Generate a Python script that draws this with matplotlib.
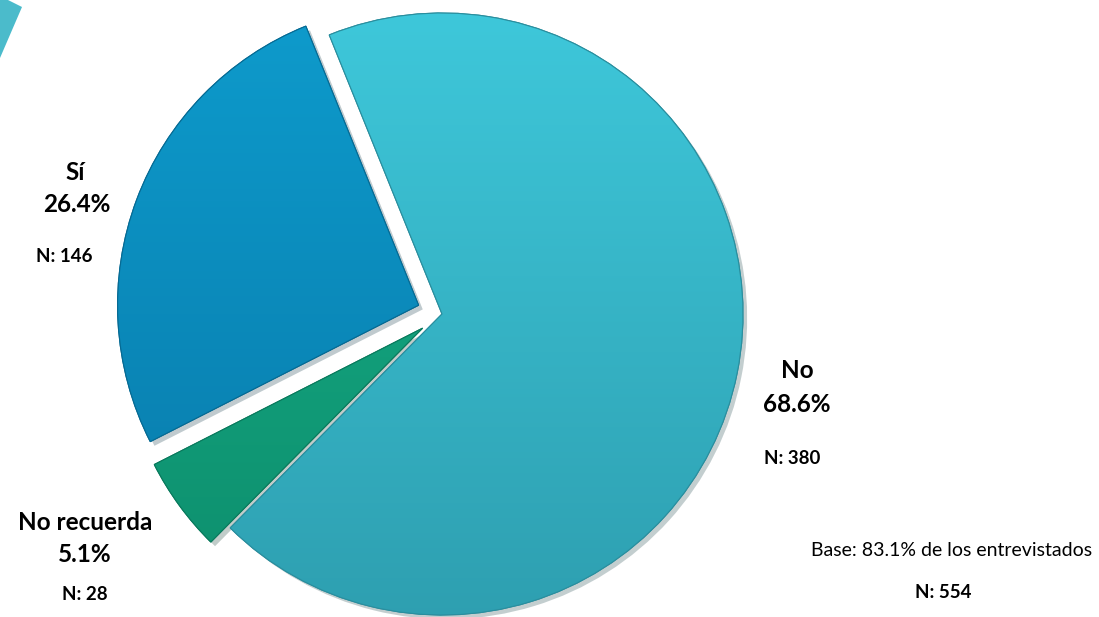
import numpy as np
import matplotlib
matplotlib.use("Agg")
import matplotlib.pyplot as plt
import matplotlib.patheffects as pe
from matplotlib.colors import LinearSegmentedColormap
from matplotlib.patches import Polygon, PathPatch

plt.rcParams['font.family'] = ['Lato', 'DejaVu Sans']

# --- data ---
categories = ["Sí", "No recuerda", "No"]
percents = [26.4, 5.1, 68.6]
counts = [146, 28, 380]
base_text = "Base: 83.1% de los entrevistados"
base_n = 554

# gradient top/bottom colours per slice
top_colors = ["#0E9DCE", "#19B38B", "#3FCADD"]
bottom_colors = ["#0877A7", "#0C8C6B", "#2D9DAE"]
edge_colors = ["#066A93", "#0A7A5D", "#2A8E9E"]

W, H = 1099, 617
fig = plt.figure(figsize=(W / 100, H / 100), dpi=100)
ax = fig.add_axes([0, 0, 1, 1])

# pie placed in pixel units (explode offsets are in the same units)
cx, cy, r = 442, H - 314, 301
explode = [25, 24, 0]
wedges, _ = ax.pie(percents, explode=explode, startangle=112, counterclock=True,
                   center=(cx, cy), radius=r, colors=top_colors,
                   wedgeprops=dict(linewidth=0.8))

for i, w in enumerate(wedges):
    w.set_edgecolor(edge_colors[i])
    w.set_path_effects([pe.SimplePatchShadow(offset=(3, -3), alpha=0.25), pe.Normal()])
    cmap = LinearSegmentedColormap.from_list(f"g{i}", [top_colors[i], bottom_colors[i]])
    grad = np.linspace(0, 1, 256).reshape(-1, 1)
    im = ax.imshow(grad, cmap=cmap, origin='upper', aspect='auto',
                   extent=[cx - r - 40, cx + r + 40, cy - r - 40, cy + r + 40], zorder=2)
    im.set_clip_path(w)
    # outline on top of the gradient
    ax.add_patch(PathPatch(w.get_path(), transform=w.get_transform(), fill=False,
                           edgecolor=edge_colors[i], linewidth=0.8, zorder=3))

ax.set_xlim(0, W)
ax.set_ylim(0, H)
ax.set_aspect('auto')
ax.axis('off')

# --- labels (pixel positions, y measured from top) ---
label_pos = {
    "Sí": [(75, 172), (77, 204), (64, 257)],
    "No recuerda": [(85, 522), (85, 555), (85, 595)],
    "No": [(797, 371), (797, 404), (792, 458)],
}
for cat, pct, n in zip(categories, percents, counts):
    (x1, y1), (x2, y2), (x3, y3) = label_pos[cat]
    ax.text(x1, H - y1, cat, ha='center', va='center', fontsize=17.5, fontweight='bold')
    ax.text(x2, H - y2, f"{pct:.1f}%", ha='center', va='center', fontsize=17.5, fontweight='bold')
    ax.text(x3, H - y3, f"N: {n}", ha='center', va='center', fontsize=13.5, fontweight='bold')

ax.text(952, H - 551, base_text, ha='center', va='center', fontsize=14)
ax.text(943, H - 592, f"N: {base_n}", ha='center', va='center', fontsize=13.5, fontweight='bold')

# decorative corner shape
fig.patches.append(Polygon([(0, 1), (8 / W, 1), (22 / W, 1 - 7 / H), (0, 1 - 58 / H)],
                           closed=True, transform=fig.transFigure, facecolor="#4BBBCB",
                           edgecolor='none'))

fig.savefig("out.png", dpi=100)
